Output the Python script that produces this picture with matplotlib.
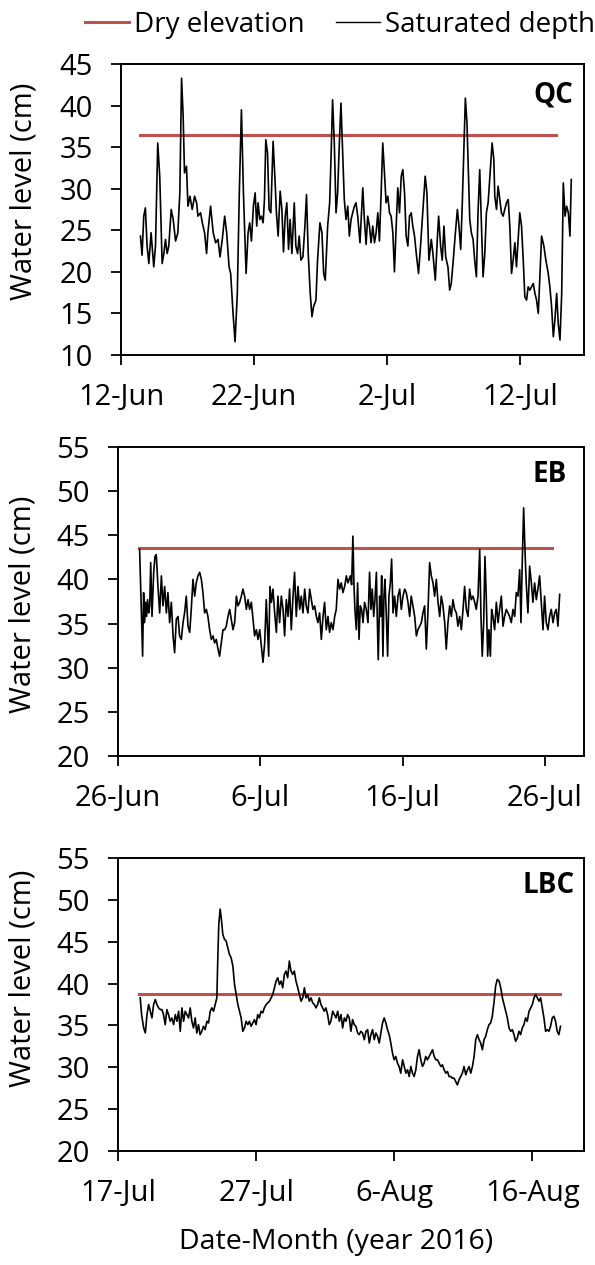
import numpy as np
import matplotlib
matplotlib.use("Agg")
import matplotlib.pyplot as plt

plt.rcParams['font.family'] = ['Open Sans', 'DejaVu Sans']

RED = '#C0504D'

# QC site: days since 12-Jun, water level (cm)
qc_start = np.datetime64('2016-06-12T00:00')
qc_days = [1.46, 1.58, 1.71, 1.83, 1.96, 2.09, 2.26, 2.46, 2.59, 2.76, 2.91, 3.09, 3.22, 3.34, 3.47,
           3.59, 3.77, 3.92, 4.10, 4.27, 4.42, 4.55, 4.67, 4.77, 4.92, 5.03, 5.18, 5.35, 5.53, 5.68,
           5.78, 5.98, 6.11, 6.28, 6.43, 6.53, 6.73, 6.93, 7.11, 7.29, 7.44, 7.61, 7.79, 7.94, 8.12,
           8.24, 8.42, 8.57, 8.74, 8.89, 9.05, 9.20, 9.40, 9.55, 9.67, 9.80, 9.95, 10.08, 10.20, 10.30,
           10.43, 10.55, 10.68, 10.78, 10.88, 11.01, 11.13, 11.26, 11.43, 11.56, 11.68, 11.81, 11.96,
           12.09, 12.21, 12.34, 12.46, 12.59, 12.71, 12.84, 13.02, 13.14, 13.27, 13.39, 13.52, 13.67,
           13.82, 13.94, 14.07, 14.22, 14.35, 14.47, 14.65, 14.77, 14.95, 15.10, 15.23, 15.35, 15.53,
           15.68, 15.78, 15.90, 16.03, 16.16, 16.28, 16.41, 16.53, 16.66, 16.78, 16.91, 17.04, 17.16,
           17.29, 17.41, 17.54, 17.66, 17.79, 17.96, 18.17, 18.29, 18.42, 18.54, 18.67, 18.79, 18.92,
           19.05, 19.17, 19.30, 19.42, 19.55, 19.67, 19.80, 19.92, 20.05, 20.18, 20.30, 20.43, 20.55,
           20.68, 20.80, 20.93, 21.06, 21.18, 21.31, 21.43, 21.56, 21.68, 21.81, 21.93, 22.06, 22.19,
           22.36, 22.51, 22.69, 22.86, 22.99, 23.14, 23.32, 23.44, 23.62, 23.77, 23.87, 24.02, 24.14,
           24.27, 24.40, 24.57, 24.70, 24.82, 24.97, 25.13, 25.28, 25.40, 25.53, 25.65, 25.78, 25.88,
           26.00, 26.08, 26.21, 26.33, 26.46, 26.58, 26.71, 26.83, 26.96, 27.09, 27.21, 27.34, 27.46,
           27.59, 27.76, 27.89, 28.02, 28.09, 28.22, 28.34, 28.47, 28.59, 28.72, 28.84, 28.97, 29.10,
           29.22, 29.35, 29.47, 29.60, 29.72, 29.85, 29.97, 30.10, 30.23, 30.35, 30.48, 30.60, 30.73,
           30.85, 30.98, 31.11, 31.23, 31.36, 31.48, 31.61, 31.78, 31.93, 32.11, 32.23, 32.36, 32.49,
           32.61, 32.74, 32.86, 32.99, 33.12, 33.24, 33.37, 33.49, 33.62, 33.74, 33.84]
qc_level = [24.3, 22.0, 26.7, 27.7, 23.1, 21.0, 24.7, 20.6, 23.1, 35.5, 31.5, 21.0, 22.2, 23.9, 22.2,
            23.1, 27.5, 26.3, 23.7, 24.7, 29.5, 43.3, 38.7, 31.9, 32.7, 27.9, 29.1, 27.5, 29.1, 28.3,
            26.7, 27.1, 25.9, 24.7, 22.2, 24.7, 27.9, 24.7, 23.5, 23.9, 21.8, 23.9, 26.7, 24.7, 20.6,
            19.8, 15.0, 11.6, 17.4, 29.5, 39.5, 29.5, 19.8, 24.7, 25.9, 23.7, 27.9, 29.5, 25.5, 28.3,
            26.3, 26.7, 25.9, 28.7, 35.9, 34.3, 27.5, 27.1, 35.7, 31.5, 27.1, 24.3, 29.7,
            27.5, 22.4, 26.7, 28.3, 22.7, 26.3, 22.2, 28.3, 23.1, 22.2, 24.3, 21.4, 21.8,
            25.5, 29.3, 22.2, 17.4, 14.6, 15.8, 16.6, 21.4, 25.9, 24.7, 19.8, 19.0, 25.5,
            28.3, 33.5, 40.7, 35.5, 27.1, 29.5, 35.5, 40.3, 34.3, 28.7, 26.3, 27.9, 24.3,
            26.3, 27.1, 27.9, 28.3, 26.7, 23.5, 30.1, 26.3, 23.3, 26.7, 25.5, 23.5, 25.5,
            23.5, 24.7, 27.1, 23.7, 29.5, 35.5, 31.9, 28.3, 29.1, 27.1, 26.7, 24.7, 20.0,
            25.5, 30.1, 27.1, 31.5, 32.3, 29.5, 24.3, 23.1, 26.7, 27.1, 25.5, 24.3, 22.2,
            19.8, 23.1, 27.5, 31.5, 29.5, 21.4, 23.9, 22.2, 19.0, 23.9, 26.7, 23.1, 21.4,
            25.5, 21.8, 20.6, 17.8, 18.6, 21.4, 24.7, 27.5, 25.5, 22.7, 28.3, 35.5, 40.9,
            37.9, 33.5, 26.3, 24.7, 23.9, 21.4, 19.4, 27.1, 32.3, 25.5, 19.4, 22.2, 27.1,
            28.3, 32.3, 35.5, 33.5, 29.1, 27.5, 30.3, 28.7, 27.1, 26.7, 27.5, 28.3, 28.7,
            25.5, 19.8, 21.4, 23.5, 20.6, 23.9, 27.1, 25.5, 21.4, 17.0, 16.6, 18.2, 17.8,
            18.2, 18.6, 17.4, 16.6, 15.0, 19.4, 24.3, 23.1, 21.4, 19.8, 18.2, 15.8, 12.2,
            14.2, 17.4, 13.8, 11.8, 17.4, 30.7, 26.7, 27.9, 27.1, 24.3, 31.1]
qc_dry = 36.5
qc_dry_days = [1.41, 32.66]

# EB site: days since 26-Jun
eb_start = np.datetime64('2016-06-26T00:00')
eb_days = [1.52, 1.59, 1.66, 1.73, 1.80, 1.87, 1.94, 2.01, 2.08, 2.16, 2.23, 2.30, 2.39, 2.51, 2.60,
           2.69, 2.81, 2.93, 3.05, 3.16, 3.28, 3.40, 3.51, 3.63, 3.75, 3.87, 3.98, 4.10, 4.22, 4.33,
           4.45, 4.57, 4.68, 4.80, 4.92, 5.04, 5.15, 5.27, 5.39, 5.50, 5.62, 5.74, 5.86, 5.97, 6.09,
           6.21, 6.32, 6.44, 6.56, 6.68, 6.79, 6.91, 7.03, 7.14, 7.26, 7.38, 7.50, 7.61, 7.73, 7.85,
           7.96, 8.08, 8.20, 8.32, 8.43, 8.55, 8.67, 8.78, 8.90, 9.02, 9.14, 9.25, 9.37, 9.49, 9.60,
           9.72, 9.84, 9.96, 10.07, 10.19, 10.31, 10.42, 10.49, 10.59, 10.68, 10.78, 10.89, 11.01,
           11.13, 11.24, 11.36, 11.48, 11.60, 11.71, 11.83, 11.95, 12.06, 12.18, 12.30, 12.41, 12.53,
           12.65, 12.77, 12.88, 13.00, 13.12, 13.23, 13.35, 13.47, 13.59, 13.70, 13.82, 13.94, 14.05,
           14.17, 14.29, 14.41, 14.52, 14.64, 14.76, 14.87, 14.99, 15.11, 15.23, 15.34, 15.46, 15.58,
           15.69, 15.81, 15.93, 16.05, 16.16, 16.33, 16.42, 16.51, 16.58, 16.65, 16.75, 16.84, 16.94,
           17.03, 17.12, 17.22, 17.33, 17.45, 17.57, 17.68, 17.78, 17.87, 17.97, 18.06, 18.16, 18.22,
           18.29, 18.39, 18.46, 18.53, 18.62, 18.69, 18.76, 18.86, 18.95, 19.04, 19.14, 19.23, 19.33,
           19.44, 19.56, 19.68, 19.80, 19.91, 20.03, 20.15, 20.26, 20.38, 20.50, 20.61, 20.73, 20.85,
           20.97, 21.08, 21.20, 21.32, 21.43, 21.55, 21.67, 21.79, 21.90, 22.02, 22.14, 22.25, 22.37,
           22.49, 22.61, 22.72, 22.84, 22.96, 23.07, 23.19, 23.31, 23.43, 23.54, 23.66, 23.78, 23.89,
           24.01, 24.13, 24.25, 24.36, 24.48, 24.60, 24.71, 24.83, 24.95, 25.07, 25.18, 25.30, 25.42,
           25.51, 25.60, 25.70, 25.79, 25.88, 25.98, 26.07, 26.17, 26.26, 26.35, 26.47, 26.59, 26.71,
           26.82, 26.94, 27.06, 27.17, 27.29, 27.41, 27.52, 27.64, 27.76, 27.88, 27.99, 28.11, 28.23,
           28.32, 28.41, 28.51, 28.60, 28.69, 28.81, 28.93, 29.05, 29.16, 29.28, 29.40, 29.51, 29.63,
           29.75, 29.87, 29.98, 30.10, 30.22, 30.33, 30.45, 30.57, 30.69, 30.80, 30.92, 31.04]
eb_level = [43.4, 39.2, 35.1, 31.3, 38.5, 35.1, 37.4, 35.8, 37.7, 36.2, 37.0, 41.9, 35.8, 40.8, 42.6,
            42.8, 39.2, 36.2, 40.4, 37.0, 39.2, 36.2, 38.5, 35.1, 37.4, 33.6, 31.7, 35.5, 35.8, 33.6,
            33.2, 35.1, 36.2, 38.1, 34.7, 34.0, 36.6, 40.0, 38.1, 39.6, 40.4, 40.8, 40.0, 38.5, 36.2,
            36.6, 35.8, 34.3, 33.2, 33.6, 32.8, 33.2, 32.1, 31.3, 32.8, 34.3, 34.3, 34.7, 35.8, 36.6,
            35.5, 34.3, 35.1, 38.1, 37.0, 37.4, 38.1, 38.9, 38.1, 36.6, 37.7, 36.6, 37.4, 35.5, 33.6,
            34.3, 33.2, 34.3, 32.5, 30.6, 32.8, 37.7, 35.1, 31.3, 39.2, 37.4, 38.9, 36.2,
            34.0, 38.1, 35.1, 38.1, 36.6, 33.6, 37.7, 35.8, 38.9, 34.3, 38.1, 40.8, 35.8,
            39.2, 36.6, 38.1, 36.2, 38.9, 37.0, 36.2, 38.9, 37.7, 36.6, 37.0, 35.8, 35.1,
            36.2, 33.2, 35.8, 37.4, 34.3, 35.8, 34.0, 35.1, 34.3, 35.8, 36.6, 40.0, 38.9,
            39.6, 38.5, 39.2, 40.4, 39.6, 40.4, 39.4, 44.9, 39.6, 36.6, 34.3, 39.6, 33.2,
            37.0, 36.6, 35.1, 37.4, 36.6, 35.1, 40.8, 36.6, 38.9, 35.8, 37.7, 40.8, 35.8,
            30.9, 38.1, 35.8, 40.4, 31.3, 38.1, 40.0, 35.8, 31.3, 38.1, 39.6, 42.3, 36.2,
            38.1, 35.8, 38.1, 38.9, 36.6, 38.1, 38.9, 38.5, 37.4, 35.8, 38.1, 37.0, 35.8,
            33.6, 34.3, 34.7, 35.1, 36.2, 37.0, 32.1, 36.6, 41.9, 40.4, 39.6, 38.1, 40.0,
            37.4, 35.8, 38.1, 37.0, 35.1, 32.1, 35.1, 37.0, 35.8, 37.7, 36.6, 36.2, 34.7,
            35.8, 34.3, 36.6, 39.2, 36.6, 35.8, 38.9, 37.7, 38.1, 37.4, 36.6, 38.1, 43.4,
            35.8, 31.3, 35.1, 42.6, 38.1, 31.3, 34.3, 31.3, 36.6, 35.8, 34.3, 37.4, 35.1,
            36.6, 38.1, 34.7, 35.8, 36.6, 36.2, 35.8, 35.1, 36.6, 35.8, 38.5, 38.1, 41.1,
            35.1, 41.9, 48.1, 43.4, 39.6, 36.2, 41.5, 39.6, 37.4, 39.6, 37.7, 38.9, 40.4,
            37.4, 34.3, 38.1, 35.1, 34.3, 35.8, 36.6, 35.1, 36.2, 36.6, 34.7, 38.3]
eb_dry = 43.5
eb_dry_days = [1.48, 30.5]

# LBC site: days since 17-Jul
lbc_start = np.datetime64('2016-07-17T00:00')
lbc_days = [1.61, 1.71, 1.86, 1.98, 2.10, 2.22, 2.34, 2.46, 2.58, 2.70, 2.82, 2.94, 3.06, 3.18, 3.30,
            3.42, 3.54, 3.66, 3.78, 3.90, 4.03, 4.15, 4.27, 4.39, 4.51, 4.63, 4.75, 4.87, 4.99, 5.11,
            5.23, 5.35, 5.47, 5.59, 5.71, 5.83, 5.95, 6.07, 6.19, 6.31, 6.44, 6.56, 6.68, 6.80, 6.92,
            7.04, 7.16, 7.23, 7.30, 7.40, 7.50, 7.59, 7.71, 7.83, 7.95, 8.07, 8.19, 8.32, 8.44, 8.56,
            8.68, 8.80, 8.92, 9.04, 9.16, 9.28, 9.40, 9.52, 9.64, 9.76, 9.88, 10.00, 10.12, 10.24,
            10.36, 10.48, 10.60, 10.73, 10.85, 10.97, 11.09, 11.21, 11.33, 11.45, 11.57, 11.69, 11.81,
            11.93, 12.05, 12.17, 12.29, 12.41, 12.53, 12.65, 12.77, 12.89, 13.02, 13.14, 13.26, 13.38,
            13.50, 13.62, 13.74, 13.86, 13.98, 14.10, 14.22, 14.34, 14.46, 14.58, 14.70, 14.82, 14.94,
            15.06, 15.18, 15.30, 15.42, 15.55, 15.67, 15.79, 15.91, 16.03, 16.15, 16.27, 16.39, 16.51,
            16.63, 16.75, 16.87, 16.99, 17.11, 17.23, 17.36, 17.47, 17.59, 17.71, 17.84, 17.96, 18.08,
            18.20, 18.32, 18.44, 18.56, 18.68, 18.80, 18.92, 19.04, 19.16, 19.28, 19.40, 19.52, 19.64,
            19.76, 19.88, 20.00, 20.12, 20.24, 20.36, 20.48, 20.61, 20.73, 20.85, 20.97, 21.09, 21.21,
            21.33, 21.45, 21.57, 21.69, 21.81, 21.93, 22.05, 22.17, 22.29, 22.41, 22.54, 22.66, 22.78,
            22.90, 23.02, 23.14, 23.26, 23.38, 23.50, 23.62, 23.74, 23.86, 23.98, 24.10, 24.22, 24.34,
            24.46, 24.58, 24.70, 24.82, 24.94, 25.06, 25.19, 25.31, 25.43, 25.55, 25.67, 25.79, 25.91,
            26.03, 26.15, 26.27, 26.39, 26.51, 26.63, 26.75, 26.87, 26.99, 27.11, 27.23, 27.35, 27.47,
            27.60, 27.72, 27.84, 27.96, 28.08, 28.20, 28.32, 28.44, 28.56, 28.68, 28.80, 28.92, 29.04,
            29.16, 29.28, 29.40, 29.52, 29.64, 29.77, 29.89, 30.01, 30.13, 30.25, 30.37, 30.49, 30.61,
            30.73, 30.85, 30.97, 31.09, 31.21, 31.33, 31.45, 31.57, 31.69, 31.81, 31.93, 32.05]
lbc_level = [38.3, 36.3, 34.7, 34.1, 36.3, 37.5, 36.7, 35.9, 37.5, 38.1, 37.5, 37.1, 36.9, 36.9, 36.3,
             35.1, 36.9, 36.3, 35.5, 35.9, 35.1, 36.3, 35.5, 36.7, 34.3, 37.1, 35.5, 36.7, 36.3, 35.9,
             37.1, 35.5, 34.7, 35.9, 34.1, 35.1, 33.9, 34.3, 34.9, 34.5, 35.5, 35.3, 36.7, 37.1, 36.7,
             37.5, 38.3, 43.1, 47.1, 48.9, 47.5, 45.9, 45.3, 45.1, 44.3, 43.5, 43.1, 42.1, 39.9, 38.7,
             37.5, 36.7, 35.9, 34.3, 34.7, 35.5, 35.1, 35.5, 34.9, 35.3, 35.7, 35.1, 36.3, 35.9,
             36.7, 36.5, 37.1, 37.5, 37.7, 37.9, 38.3, 38.7, 39.5, 40.3, 40.7, 39.9, 40.3,
             39.5, 41.1, 41.5, 40.7, 42.7, 41.5, 41.1, 41.5, 40.3, 39.5, 38.7, 37.9, 38.3,
             39.5, 38.3, 38.7, 37.9, 38.3, 37.7, 37.5, 37.1, 37.5, 38.3, 37.5, 37.1, 36.7,
             37.1, 36.3, 35.1, 35.5, 36.7, 36.3, 35.9, 36.7, 35.5, 36.3, 34.7, 35.9, 35.5,
             36.3, 35.9, 34.3, 35.7, 35.1, 34.9, 34.1, 33.9, 34.3, 34.1, 33.3, 34.3, 34.5,
             32.9, 33.9, 34.5, 33.3, 34.1, 33.7, 32.9, 34.1, 35.3, 35.9, 35.3, 34.5, 33.9,
             32.9, 31.7, 30.9, 31.3, 30.5, 30.1, 29.3, 30.9, 30.1, 29.3, 29.7, 28.9, 30.1,
             29.3, 28.9, 29.7, 31.3, 32.1, 30.9, 30.1, 30.5, 31.3, 30.9, 31.3, 31.7, 32.1,
             31.3, 30.9, 30.9, 30.5, 30.1, 30.3, 29.7, 29.3, 29.5, 28.9, 28.9, 28.7, 28.7,
             28.3, 27.9, 28.5, 28.9, 29.3, 30.1, 29.1, 29.7, 30.1, 29.3, 30.1, 31.3, 33.3,
             33.9, 33.3, 32.9, 32.1, 33.3, 33.7, 34.5, 35.1, 35.3, 36.1, 37.7, 39.7, 40.5,
             40.3, 39.5, 38.3, 37.5, 36.7, 35.9, 34.7, 34.3, 34.5, 33.9, 33.1, 33.5, 34.3,
             33.9, 34.7, 35.1, 35.9, 35.5, 36.7, 37.1, 37.5, 38.3, 38.7, 38.3, 37.9, 38.3,
             37.1, 35.9, 34.3, 34.5, 34.3, 34.9, 35.9, 36.1, 35.5, 34.3, 33.9, 34.9]
lbc_dry = 38.8
lbc_dry_days = [1.52, 31.98]

tick_days = [0, 10, 20, 30]
qc_ticklabels = ['12-Jun', '22-Jun', '2-Jul', '12-Jul']
eb_ticklabels = ['26-Jun', '6-Jul', '16-Jul', '26-Jul']
lbc_ticklabels = ['17-Jul', '27-Jul', '6-Aug', '16-Aug']


def to_dates(start, days):
    mins = np.round(np.asarray(days) * 24 * 60).astype('timedelta64[m]')
    return start + mins


def panel(ax, start, days, level, dry, dry_days, span, ylim, ticklabels,
          name, name_xy, ylabel_xy):
    ax.plot(to_dates(start, dry_days), [dry, dry], color=RED, lw=2.2)
    ax.plot(to_dates(start, days), level, color='black', lw=1.2)
    ax.set_xlim(to_dates(start, [0, span]))
    ax.set_ylim(*ylim)
    ax.set_yticks(np.arange(ylim[0], ylim[1] + 1, 5))
    ax.set_xticks(to_dates(start, tick_days))
    ax.set_xticklabels(ticklabels)
    ax.tick_params(axis='both', labelsize=21, length=7.2, width=1.3, direction='out', pad=13)
    for s in ax.spines.values():
        s.set_linewidth(1.4)
    ax.set_ylabel('Water level (cm)', fontsize=21)
    ax.yaxis.set_label_coords(*ylabel_xy)
    ax.text(name_xy[0], name_xy[1], name, transform=ax.transAxes, ha='right', va='top',
            fontsize=20, fontweight='bold')


fig = plt.figure(figsize=(5.95, 12.65), dpi=100)
ax1 = fig.add_axes([0.2034, 0.7194, 0.7782, 0.2300])
ax2 = fig.add_axes([0.1983, 0.4024, 0.7832, 0.2443])
ax3 = fig.add_axes([0.1983, 0.0901, 0.7832, 0.2316])

panel(ax1, qc_start, qc_days, qc_level, qc_dry, qc_dry_days, 34.8, (10, 45),
      qc_ticklabels, 'QC', (0.976, 0.945), (-0.179, 0.564))
panel(ax2, eb_start, eb_days, eb_level, eb_dry, eb_dry_days, 32.75, (20, 55),
      eb_ticklabels, 'EB', (0.9635, 0.958), (-0.172, 0.49))
panel(ax3, lbc_start, lbc_days, lbc_level, lbc_dry, lbc_dry_days, 33.75, (20, 55),
      lbc_ticklabels, 'LBC', (0.981, 0.956), (-0.172, 0.59))

ax3.set_xlabel('Date-Month (year 2016)', fontsize=20.5)
ax3.xaxis.set_label_coords(0.468, -0.262)

h_dry = plt.Line2D([], [], color=RED, lw=2.2)
h_sat = plt.Line2D([], [], color='black', lw=1.0)
fig.legend([h_dry, h_sat], ['Dry elevation', 'Saturated depth'], loc='upper right',
           bbox_to_anchor=(1.0, 0.9915), ncol=2, frameon=False, fontsize=20,
           borderpad=0, borderaxespad=0,
           handlelength=1.6, handletextpad=0.18, columnspacing=1.1)

fig.savefig('out.png', dpi=100)
